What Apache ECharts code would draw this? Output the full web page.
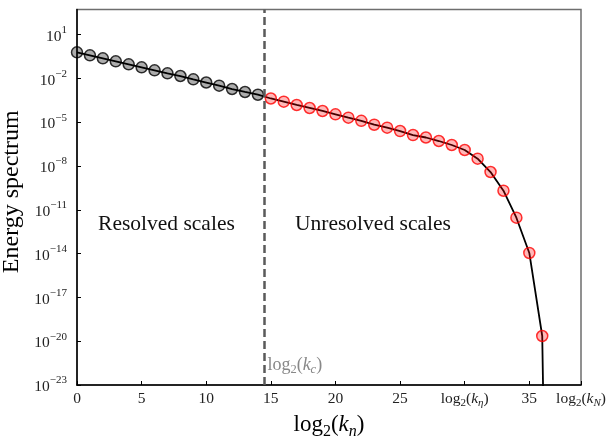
<!DOCTYPE html>
<html>
<head>
<meta charset="utf-8">
<script src="https://cdn.jsdelivr.net/npm/echarts@6/dist/echarts.min.js"></script>
<style>
  html, body { margin: 0; padding: 0; background: #ffffff; }
  #chart { width: 610px; height: 436px; }
</style>
</head>
<body>
<div id="chart"></div>
<script>
// Shell indices log2(k_n) and the energy held in each shell.
const resolvedShells = [0, 1, 2, 3, 4, 5, 6, 7, 8, 9, 10, 11, 12, 13, 14];
const resolvedEnergy = [
  0.622, 0.388, 0.2415, 0.1507, 0.0938, 0.0585, 0.0364, 0.0226,
  0.0148, 8.79e-3, 5.31e-3, 3.21e-3, 1.905e-3, 1.19e-3, 7.74e-4
];
const unresolvedShells = [15, 16, 17, 18, 19, 20, 21, 22, 23, 24, 25, 26, 27, 28,
  29, 30, 31, 32, 33, 34, 35, 36];
const unresolvedEnergy = [
  4.26e-4, 2.57e-4, 1.53e-4, 9.53e-5, 5.94e-5, 3.52e-5, 2.06e-5, 1.26e-5,
  6.82e-6, 4.25e-6, 2.52e-6, 1.34e-6, 9.06e-7, 5.21e-7, 2.77e-7, 1.26e-7,
  3.20e-8, 3.92e-9, 2.05e-10, 2.90e-12, 1.11e-14, 2.28e-20
];
// Where the spectrum plunges below the plotted range.
const tailShell = [36.08];
const tailEnergy = [1e-24];

// Cut-off between resolved and unresolved scales, log2(k_c).
const cutoffLog2 = 14.5;
// Special x tick positions: log2(k_eta) and log2(k_N).
const etaLog2 = 30;
const nyquistLog2 = 39;

// Axis ranges (energy axis is in decades, labelled as powers of ten).
const xMin = 0, xMax = 39, xStep = 5;
const yMinDecade = -23, yMaxDecade = 2.727, yStepDecades = 3;

// Text placed inside the plot.
const regionLabels = [
  { text: 'Resolved scales', x: 6.92, y: 1e-12 },
  { text: 'Unresolved scales', x: 22.9, y: 1e-12 }
];
const cutoffLabelHeight = Math.pow(10, -21.7);

const SERIF = '"Liberation Serif", "DejaVu Serif", serif';

// Energies are plotted on a logarithmic (decade) axis.
const dec = (e) => Math.log10(e);

const lineData = resolvedShells.map((k, i) => [k, dec(resolvedEnergy[i])])
  .concat(unresolvedShells.map((k, i) => [k, dec(unresolvedEnergy[i])]))
  .concat(tailShell.map((k, i) => [k, dec(tailEnergy[i])]));

const chart = echarts.init(document.getElementById('chart'), null, { renderer: 'canvas' });

const mathRich = {
  r: { fontFamily: SERIF, fontSize: 15.5, color: '#222', lineHeight: 18, verticalAlign: 'top' },
  i: { fontFamily: SERIF, fontStyle: 'italic', fontSize: 15.5, color: '#222', lineHeight: 18, verticalAlign: 'top' },
  d: { fontFamily: SERIF, fontSize: 11, color: '#222', lineHeight: 11, verticalAlign: 'bottom' },
  di: { fontFamily: SERIF, fontStyle: 'italic', fontSize: 11, color: '#222', lineHeight: 11, verticalAlign: 'bottom' }
};

function xLabel(v) {
  if (Math.abs(v - etaLog2) < 1e-9) return '{r|log}{d|2}{r|(}{i|k}{di|η}{r|)}';
  if (Math.abs(v - nyquistLog2) < 1e-9) return '{r|log}{d|2}{r|(}{i|k}{di|N}{r|)}';
  return '{r|' + v + '}';
}

function yLabel(v) {
  const e = Math.round(v);
  if (Math.abs(v - e) > 1e-6) return '';
  const exp = e < 0 ? '\u2212' + (-e) : String(e);
  return '{b|10}{s|' + exp + '}';
}

chart.setOption({
  animation: false,
  backgroundColor: '#ffffff',
  grid: {
    left: 77, right: 29, top: 9.5, bottom: 51,
    containLabel: false, outerBoundsMode: 'none',
    show: true, borderColor: '#6e6e6e', borderWidth: 1.5, backgroundColor: 'transparent'
  },
  xAxis: {
    type: 'value', min: xMin, max: xMax, interval: xStep,
    name: '{r|log}{d|2}{r|(}{i|k}{di|n}{r|)}',
    nameLocation: 'middle', nameGap: 15,
    nameTextStyle: {
      rich: {
        r: { fontFamily: SERIF, fontSize: 23, color: '#000', lineHeight: 26, verticalAlign: 'top' },
        i: { fontFamily: SERIF, fontStyle: 'italic', fontSize: 23, color: '#000', lineHeight: 26, verticalAlign: 'top' },
        d: { fontFamily: SERIF, fontSize: 16, color: '#000', lineHeight: 15, verticalAlign: 'bottom' },
        di: { fontFamily: SERIF, fontStyle: 'italic', fontSize: 16, color: '#000', lineHeight: 15, verticalAlign: 'bottom' }
      }
    },
    axisLine: { show: true, onZero: false, lineStyle: { color: '#000', width: 1.5 } },
    axisTick: { show: true, inside: true, length: 4, lineStyle: { color: '#000', width: 1 } },
    axisLabel: { formatter: xLabel, rich: mathRich, margin: 6, showMaxLabel: true },
    splitLine: { show: false }
  },
  yAxis: {
    type: 'value', min: yMinDecade, max: yMaxDecade, interval: yStepDecades,
    name: 'Energy spectrum', nameLocation: 'middle', nameRotate: 90, nameGap: 47,
    nameTextStyle: { fontFamily: SERIF, fontSize: 24, color: '#000', padding: [0, 0, 0, 11] },
    axisLine: { show: true, onZero: false, lineStyle: { color: '#000', width: 1.5 } },
    axisTick: { show: true, inside: true, length: 4, lineStyle: { color: '#000', width: 1 } },
    axisLabel: {
      formatter: yLabel, margin: 10, showMaxLabel: false,
      rich: {
        b: { fontFamily: SERIF, fontSize: 15.5, color: '#222', lineHeight: 20, verticalAlign: 'bottom' },
        s: { fontFamily: SERIF, fontSize: 11, color: '#222', lineHeight: 11, verticalAlign: 'top' }
      }
    },
    splitLine: { show: false }
  },
  series: [
    {
      name: 'spectrum', type: 'line', data: lineData, showSymbol: false, clip: true,
      lineStyle: { color: '#000', width: 1.8 }, z: 3,
      markLine: {
        silent: true, symbol: ['none', 'none'], label: { show: false },
        lineStyle: { color: '#5a5a5a', width: 2.5, type: [8, 4] },
        data: [{ xAxis: cutoffLog2 }]
      }
    },
    {
      name: 'resolved', type: 'scatter', z: 4, symbol: 'circle', symbolSize: 11,
      data: resolvedShells.map((k, i) => [k, dec(resolvedEnergy[i])]),
      itemStyle: { color: 'rgba(0,0,0,0.4)', borderColor: '#000', borderWidth: 1.5 }
    },
    {
      name: 'unresolved', type: 'scatter', z: 4, symbol: 'circle', symbolSize: 11,
      data: unresolvedShells.map((k, i) => [k, dec(unresolvedEnergy[i])]),
      itemStyle: { color: 'rgba(255,0,0,0.35)', borderColor: '#ff0000', borderWidth: 1.5 }
    }
  ]
});

// Region annotations and the cut-off label, placed in data coordinates.
function placeText() {
  const elements = regionLabels.map((lab) => {
    const p = chart.convertToPixel({ gridIndex: 0 }, [lab.x, dec(lab.y)]);
    return {
      type: 'text', x: p[0], y: p[1], z: 10,
      style: {
        text: lab.text, fontFamily: SERIF, fontSize: 21.5, fill: '#111',
        align: 'center', verticalAlign: 'middle'
      }
    };
  });
  const c = chart.convertToPixel({ gridIndex: 0 }, [cutoffLog2, dec(cutoffLabelHeight)]);
  elements.push({
    type: 'text', x: c[0] + 3, y: c[1], z: 10,
    style: {
      text: '{r|log}{d|2}{r|(}{i|k}{di|c}{r|)}',
      align: 'left', verticalAlign: 'middle',
      rich: {
        r: { fontFamily: SERIF, fontSize: 18, fill: '#888', lineHeight: 20, verticalAlign: 'top' },
        i: { fontFamily: SERIF, fontStyle: 'italic', fontSize: 18, fill: '#888', lineHeight: 20, verticalAlign: 'top' },
        d: { fontFamily: SERIF, fontSize: 12.5, fill: '#888', lineHeight: 12, verticalAlign: 'bottom' },
        di: { fontFamily: SERIF, fontStyle: 'italic', fontSize: 12.5, fill: '#888', lineHeight: 12, verticalAlign: 'bottom' }
      }
    }
  });
  chart.setOption({ graphic: { elements: elements } });
}
placeText();
</script>
</body>
</html>
